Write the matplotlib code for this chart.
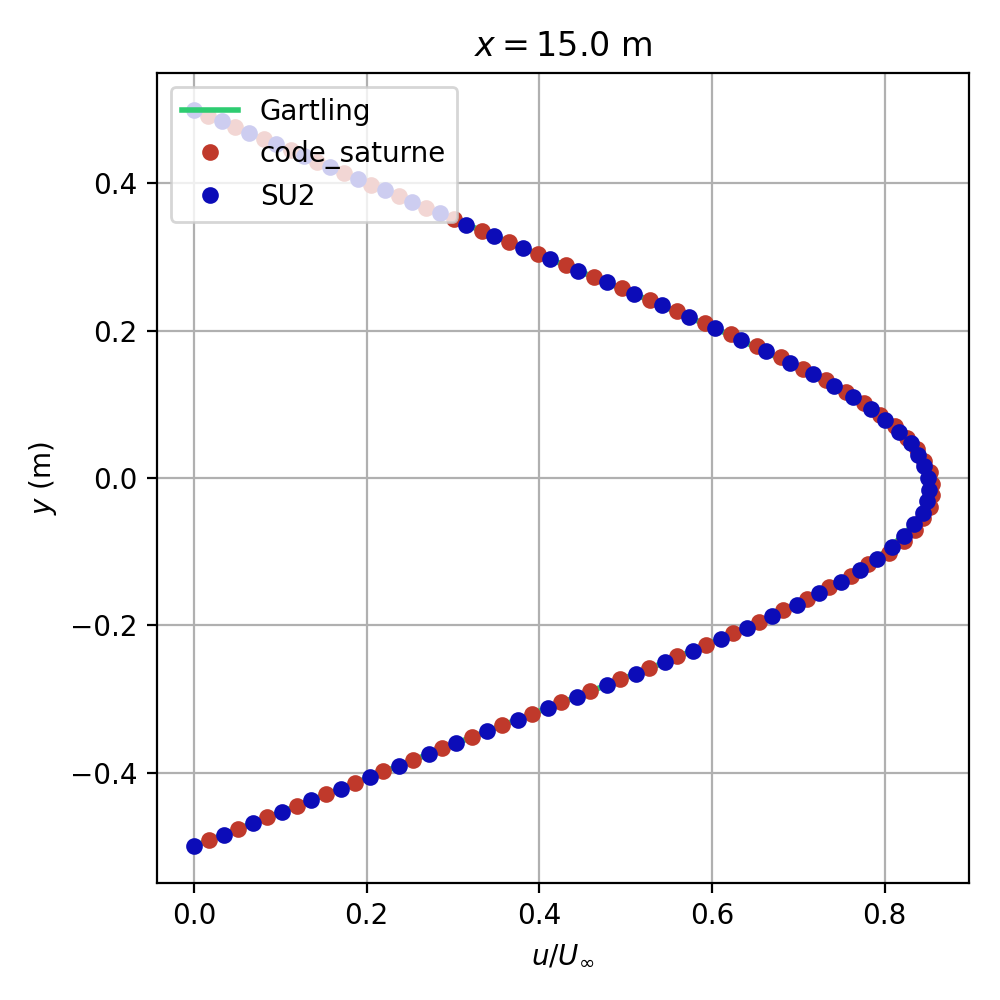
import matplotlib
matplotlib.use("Agg")
import matplotlib.pyplot as plt

# SU2 (nodes), top to bottom
su2_y = [0.5, 0.484375, 0.46875, 0.453125, 0.4375, 0.421875, 0.40625, 0.390625,
         0.375, 0.359375, 0.34375, 0.328125, 0.3125, 0.296875, 0.28125, 0.265625,
         0.25, 0.234375, 0.21875, 0.203125, 0.1875, 0.171875, 0.15625, 0.140625,
         0.125, 0.109375, 0.09375, 0.078125, 0.0625, 0.046875, 0.03125, 0.015625,
         0.0, -0.015625, -0.03125, -0.046875, -0.0625, -0.078125, -0.09375, -0.109375,
         -0.125, -0.140625, -0.15625, -0.171875, -0.1875, -0.203125, -0.21875, -0.234375,
         -0.25, -0.265625, -0.28125, -0.296875, -0.3125, -0.328125, -0.34375, -0.359375,
         -0.375, -0.390625, -0.40625, -0.421875, -0.4375, -0.453125, -0.46875, -0.484375,
         -0.5]
su2_u = [0.000, 0.033, 0.064, 0.095, 0.127, 0.158, 0.190, 0.221,
         0.253, 0.285, 0.315, 0.348, 0.381, 0.413, 0.445, 0.478,
         0.510, 0.542, 0.573, 0.604, 0.634, 0.663, 0.691, 0.717,
         0.741, 0.763, 0.784, 0.801, 0.817, 0.830, 0.839, 0.846,
         0.850, 0.851, 0.849, 0.844, 0.834, 0.822, 0.808, 0.791,
         0.771, 0.750, 0.724, 0.699, 0.670, 0.641, 0.610, 0.578,
         0.546, 0.512, 0.478, 0.444, 0.410, 0.375, 0.340, 0.304,
         0.272, 0.2375, 0.204, 0.170, 0.136, 0.102, 0.068, 0.035,
         0.000]

# code_saturne (cell centres), top to bottom
cs_y = [0.4921875, 0.4765625, 0.4609375, 0.4453125, 0.4296875, 0.4140625, 0.3984375, 0.3828125,
        0.3671875, 0.3515625, 0.3359375, 0.3203125, 0.3046875, 0.2890625, 0.2734375, 0.2578125,
        0.2421875, 0.2265625, 0.2109375, 0.1953125, 0.1796875, 0.1640625, 0.1484375, 0.1328125,
        0.1171875, 0.1015625, 0.0859375, 0.0703125, 0.0546875, 0.0390625, 0.0234375, 0.0078125,
        -0.0078125, -0.0234375, -0.0390625, -0.0546875, -0.0703125, -0.0859375, -0.1015625, -0.1171875,
        -0.1328125, -0.1484375, -0.1640625, -0.1796875, -0.1953125, -0.2109375, -0.2265625, -0.2421875,
        -0.2578125, -0.2734375, -0.2890625, -0.3046875, -0.3203125, -0.3359375, -0.3515625, -0.3671875,
        -0.3828125, -0.3984375, -0.4140625, -0.4296875, -0.4453125, -0.4609375, -0.4765625, -0.4921875]
cs_u = [0.0165, 0.048, 0.081, 0.112, 0.142, 0.174, 0.2055, 0.237,
        0.269, 0.301, 0.3335, 0.365, 0.399, 0.431, 0.463, 0.496,
        0.528, 0.560, 0.592, 0.622, 0.652, 0.680, 0.706, 0.732,
        0.755, 0.776, 0.795, 0.812, 0.826, 0.837, 0.846, 0.852,
        0.855, 0.855, 0.852, 0.845, 0.835, 0.822, 0.805, 0.781,
        0.7608, 0.7358, 0.710, 0.6824, 0.6544, 0.624, 0.593, 0.5594,
        0.5276, 0.4937, 0.4592, 0.425, 0.3911, 0.3566, 0.322, 0.2874,
        0.254, 0.2194, 0.1864, 0.153, 0.1191, 0.0845, 0.0515, 0.0177]

# Gartling reference profile
gart_y = [0.5, 0.45, 0.4, 0.35, 0.3, 0.25, 0.2, 0.15, 0.1, 0.075, 0.05, 0.025,
          0.0, -0.025, -0.05, -0.075, -0.1, -0.15, -0.2, -0.25, -0.3, -0.35,
          -0.4, -0.45, -0.5]
gart_u = [0.0, 0.101, 0.203, 0.304, 0.407, 0.510, 0.610, 0.701, 0.776, 0.804,
          0.828, 0.842, 0.850, 0.850, 0.842, 0.824, 0.801, 0.735, 0.647, 0.546,
          0.437, 0.326, 0.2175, 0.109, 0.0]

fig = plt.figure(figsize=(5, 5), dpi=200)
ax = fig.add_axes([0.157, 0.117, 0.812, 0.810])

ax.plot(gart_u, gart_y, color="#2ecc71", linewidth=2, label="Gartling")
ax.plot(cs_u, cs_y, "o", color="#c0392b", markersize=5, label="code_saturne")
ax.plot(su2_u, su2_y, "o", color="#0c0cb8", markersize=5, label="SU2")

ax.set_title("$x = 15.0$ m")
ax.set_xlabel(r"$u/U_\infty$")
ax.set_ylabel("$y$ (m)")
ax.grid(True)
ax.legend(loc="upper left")

fig.savefig("out.png", dpi=200)
